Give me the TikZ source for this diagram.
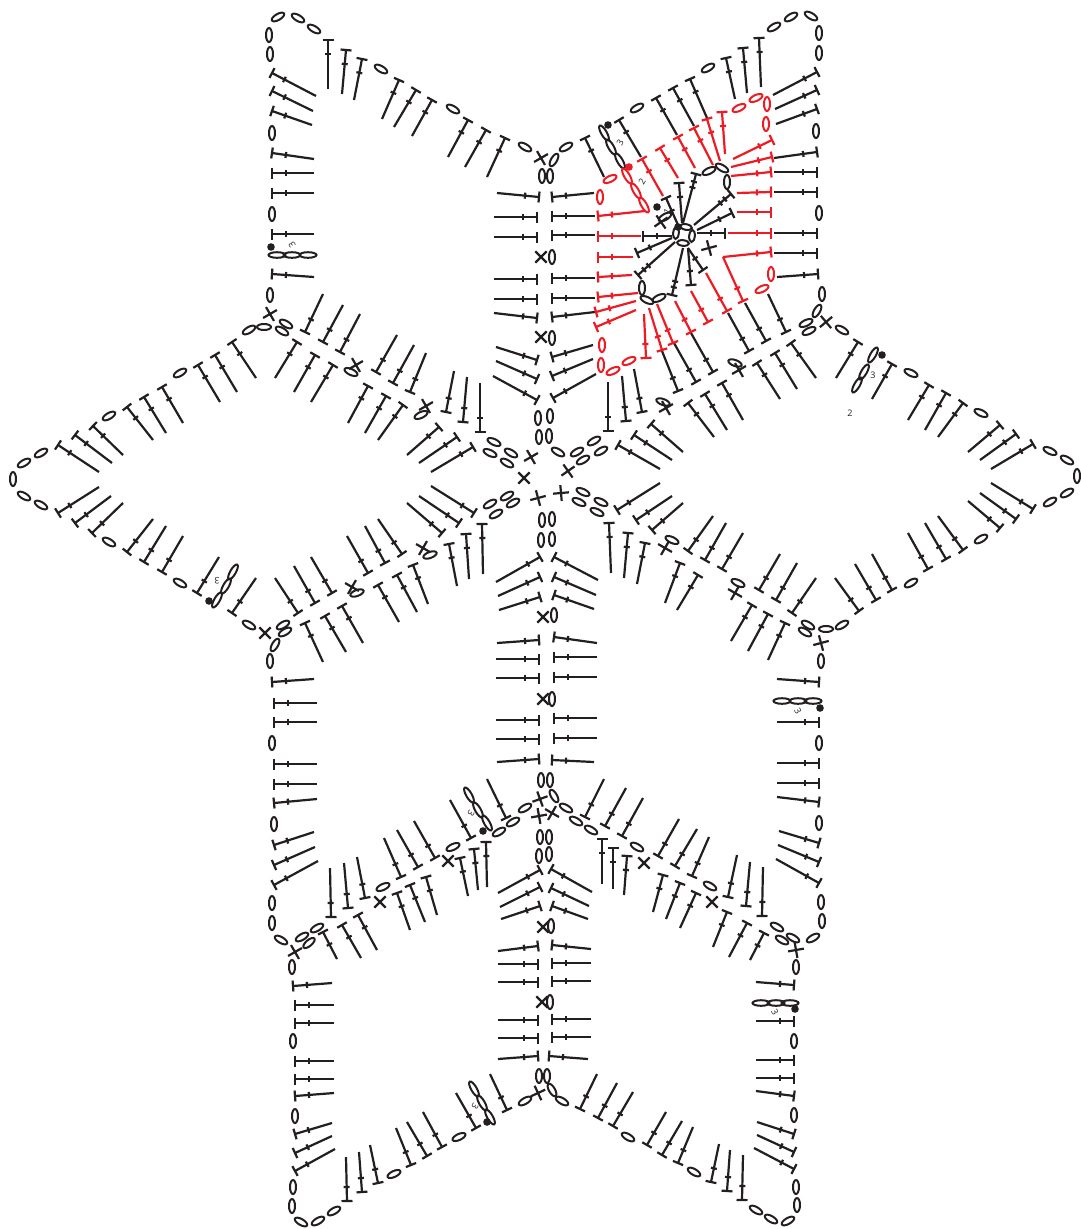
\documentclass[tikz,border=0pt]{standalone}
\usepackage{fontspec}
\setmainfont{Open Sans}
\usetikzlibrary{calc}
\definecolor{ink}{RGB}{35,31,32}
\definecolor{yarnred}{RGB}{237,28,36}
\tikzset{stitch/.style={line width=2.2pt}, loopst/.style={line width=2pt}, numlabel/.style={font=\fontsize{9}{9}\selectfont, inner sep=0pt}}
\newcommand{\dcst}[4]{%
  \coordinate (t) at (#1,#2); \coordinate (e) at (#3,#4); \coordinate (m) at ($(t)!14pt!(e)$);
  \draw[stitch] (t) -- (e);
  \draw[stitch] ($(t)!5.5pt!90:(e)$) -- ($(t)!5.5pt!-90:(e)$);
  \draw[stitch] ($(m)!3pt!90:(e)$) -- ($(m)!3pt!-90:(e)$);}
\newcommand{\chst}[3]{\draw[loopst] (#1,#2) ellipse [x radius=7pt, y radius=3pt, rotate=#3];}
\newcommand{\chlong}[3]{\draw[loopst] (#1,#2) ellipse [x radius=8.5pt, y radius=2.8pt, rotate=#3];}
\newcommand{\scst}[3]{\draw[stitch, rotate around={#3:(#1,#2)}] (#1-8,#2) -- (#1+8,#2) (#1,#2-8) -- (#1,#2+8);}
\begin{document}
\begin{tikzpicture}[x=1pt, y=-1pt, color=ink]
  \useasboundingbox (0,0) rectangle (1080,1229);
  % top right arm, outer row
  \foreach \xa/\ya/\xb/\yb in {585/138/604/177, 619/120/641/157, 656/98/677/135, 673/88/694/126, 690/79/707/118, 726/58/735/99, 743/48/747/93, 759/38/761/87,
    817/72/773/95, 817/90/775/109, 817/109/776/124, 817/152/774/158, 817/172/774/172, 817/192/774/192, 817/233/774/233, 817/253/774/253, 818/274/777/277,
    552/197/594/193, 552/216/595/216, 552/235/595/235, 552/278/595/278, 552/298/595/298, 552/317/595/312, 552/357/593/345, 552/376/593/359, 553/398/596/374,
    786/332/768/294, 766/341/745/303, 749/351/728/313, 713/372/691/333, 696/382/674/343, 678/391/662/351, 642/412/634/369, 626/421/622/376, 608/431/608/382}
    {\dcst{\xa}{\ya}{\xb}{\yb}}
  % top left arm
  \foreach \xa/\ya/\xb/\yb in {539/197/497/193, 537/217/494/217, 537/237/494/237, 537/279/494/279, 537/299/494/299, 537/318/494/313, 537/360/496/347, 537/379/496/361, 537/400/493/376,
    505/138/487/177, 486/130/465/167, 468/120/448/157, 432/100/412/136, 416/90/394/127, 399/80/382/119, 362/59/354/100, 346/50/342/94, 328/40/328/89,
    272/73/316/96, 272/91/313/111, 272/111/312/125, 272/153/314/159, 272/173/314/173, 272/193/314/193, 272/234/314/234, 272/274/314/277}
    {\dcst{\xa}{\ya}{\xb}{\yb}}
  % right arm
  \foreach \xa/\ya/\xb/\yb in {858/342/836/378, 892/364/872/399, 929/385/908/420, 946/393/925/430, 963/403/938/437, 1000/425/968/452, 1016/434/980/460, 1033/444/991/469,
    1033/509/991/483, 1016/519/980/493, 1000/528/968/501, 963/550/938/516, 946/559/925/523, 928/569/908/533, 892/590/872/554, 876/600/855/564, 859/611/835/578,
    791/343/816/378, 775/353/797/389, 757/363/780/399, 722/383/743/420, 705/394/727/430, 688/403/714/437,
    618/445/660/469, 634/435/672/460, 651/424/683/452, 617/510/660/483, 636/520/672/496, 652/530/683/503,
    609/523/611/573, 628/533/624/578, 645/543/637/584, 680/563/665/603, 698/575/677/610, 688/551/713/516, 705/560/726/523, 722/569/743/533,
    759/590/780/554, 776/600/797/563, 792/613/816/578, 752/605/731/641, 768/614/748/651, 785/623/768/660}
    {\dcst{\xa}{\ya}{\xb}{\yb}}
  % left arm
  \foreach \xa/\ya/\xb/\yb in {232/342/256/378, 215/355/237/392, 198/365/220/402, 162/387/183/423, 144/397/166/433, 127/407/153/440, 93/426/123/455, 75/435/112/463, 58/445/99/472,
    58/513/99/487, 75/523/111/496, 92/533/123/503, 127/552/153/519, 144/562/166/526, 162/572/183/536, 197/593/219/557, 232/613/256/578,
    297/342/275/378, 315/355/294/392, 333/365/311/402, 305/332/323/294, 323/342/343/305, 340/352/360/314, 376/372/397/335, 393/383/414/345, 410/392/426/353,
    368/386/348/423, 386/396/365/433, 403/405/378/440, 446/412/454/371, 463/422/467/377, 480/432/480/383, 439/427/407/455, 457/437/419/463, 473/447/431/472,
    474/513/431/486, 459/523/419/496, 442/533/407/503, 482/524/483/574, 466/534/469/579, 449/544/457/586, 413/565/428/604, 397/575/417/612, 378/585/399/622,
    368/573/347/536, 385/563/365/526, 402/554/378/519, 332/593/311/557, 315/603/294/566, 298/613/275/578, 342/606/363/643, 325/616/346/652, 305/623/323/662}
    {\dcst{\xa}{\ya}{\xb}{\yb}}
  % middle column and sides
  \foreach \xa/\ya/\xb/\yb in {554/557/598/580, 554/577/596/595, 554/595/594/609, 540/557/496/582, 540/577/498/596, 540/597/499/610,
    554/637/597/643, 554/657/597/657, 554/677/597/677, 554/718/597/718, 554/738/597/738, 552/760/594/762,
    539/640/497/643, 539/659/496/659, 539/678/496/678, 539/720/496/720, 539/739/496/739, 539/759/497/762,
    819/682/777/679, 819/722/777/722, 819/763/777/763, 819/783/777/783, 819/802/777/797, 819/843/779/831, 819/862/778/845, 819/883/776/859,
    272/682/314/679, 274/703/317/703, 274/722/317/722, 274/764/317/764, 274/784/317/784, 274/803/317/799, 274/845/314/832, 274/865/315/847, 274/885/318/861}
    {\dcst{\xa}{\ya}{\xb}{\yb}}
  % chevrons of the lower part
  \foreach \xa/\ya/\xb/\yb in {585/817/604/779, 605/826/626/788, 622/836/643/798, 658/856/679/819, 675/866/697/829, 692/876/709/837, 728/897/737/855, 746/906/750/862, 762/916/763/867,
    602/839/602/884, 613/848/613/889, 627/856/624/895, 663/875/653/912, 680/883/666/919, 696/893/680/928, 727/912/713/947, 747/923/729/957, 764/933/750/960,
    331/917/330/868, 348/908/344/863, 365/898/357/857, 401/877/384/838, 418/867/397/830, 435/858/414/821, 471/838/450/800, 506/818/487/779,
    486/842/487/887, 474/849/478/890, 460/858/468/896, 426/877/437/915, 410/885/425/922, 397/893/410/930, 358/915/377/950, 342/925/361/958, 323/932/337/959}
    {\dcst{\xa}{\ya}{\xb}{\yb}}
  % bottom
  \foreach \xa/\ya/\xb/\yb in {551/869/592/892, 551/888/589/906, 552/906/588/919, 540/870/498/893, 540/887/500/907, 540/906/501/919,
    552/945/591/949, 552/963/591/963, 552/981/591/981, 552/1019/591/1019, 552/1037/591/1037, 549/1056/588/1059,
    538/946/498/951, 538/964/498/964, 538/982/498/982, 538/1020/498/1020, 538/1038/498/1038, 538/1056/498/1059,
    580/1109/597/1074, 598/1118/617/1083, 613/1126/633/1092, 647/1145/666/1112, 662/1155/682/1121, 678/1163/693/1127, 711/1182/719/1144, 727/1191/730/1150, 742/1200/743/1155,
    794/1169/754/1148, 794/1152/757/1135, 794/1134/757/1122, 794/1096/756/1091, 794/1078/756/1078, 794/1060/756/1060, 794/1021/756/1021, 794/985/756/982,
    293/986/332/983, 295/1005/334/1005, 295/1023/334/1023, 295/1061/334/1061, 295/1079/334/1079, 295/1096/334/1093, 295/1134/332/1123, 295/1153/332/1136, 295/1171/335/1149,
    347/1201/346/1157, 362/1192/359/1152, 378/1183/370/1145, 411/1165/396/1128, 427/1156/407/1122, 442/1147/423/1112, 476/1128/456/1093, 507/1110/490/1074}
    {\dcst{\xa}{\ya}{\xb}{\yb}}
  % centre spokes
  \foreach \xa/\ya/\xb/\yb in {666/198/678/225, 679/183/682/223, 696/174/683/223, 731/194/694/225, 732/213/697/230, 725/233/697/233, 703/270/688/248, 691/285/688/248, 672/295/683/248, 638/275/675/242, 637/253/672/238, 643/236/672/236}
    {\dcst{\xa}{\ya}{\xb}{\yb}}
  \foreach \xa/\ya/\xb/\yb in {696/174/683/223, 731/194/694/225, 672/295/683/248, 638/275/675/242}
    {\coordinate (t) at (\xa,\ya); \coordinate (e) at (\xb,\yb); \coordinate (m) at ($(t)!8pt!(e)$);
     \draw[stitch] ($(m)!3pt!90:(e)$) -- ($(m)!3pt!-90:(e)$);}
  % chains
  \foreach \x/\y/\a in {566/147/30, 554/160/60, 637/108/30, 708/68/30, 774/27/30, 791/17/30, 811/16/-30, 819/33/90, 819/53/90, 816/131/90, 819/213/90, 822/294/90, 817/311/60, 806/323/25, 809/331/25,
    842/330/-30, 911/373/-25, 981/413/-25, 1050/451/-25, 1067/460/-30, 1077/476/90, 1067/493/30, 1050/502/30, 981/539/30, 911/583/30, 842/625/30, 826/629/0, 808/625/-30, 805/632/-30, 821/661/90,
    552/257/90, 552/338/90, 550/176/90, 542/176/90, 525/147/-30, 453/109/-30, 381/69/-30, 314/29/-30, 298/18/-30, 278/17/30, 269/35/90, 270/54/90, 272/133/90, 272/214/90, 270/295/90,
    286/324/-30, 282/331/-30, 264/327/0, 249/330/30, 180/373/30, 109/416/30, 41/453/30, 24/463/30, 13/479/90, 24/496/-30, 41/505/-30, 109/542/-30, 180/583/-30, 249/625/-30, 283/625/30, 285/632/30, 275/645/60, 270/661/90,
    538/418/90, 550/416/90, 539/437/90, 549/436/90, 494/442/-25, 490/453/-25, 511/453/-30, 507/463/-30, 490/504/30, 507/496/30, 496/514/30, 513/503/30,
    542/520/90, 552/519/90, 541/540/90, 552/539/90, 583/492/-25, 601/502/-25, 579/502/-25, 597/512/-25, 558/452/-30, 577/452/30, 594/441/30, 583/460/30, 601/451/30,
    554/615/90, 552/699/90, 541/780/90, 550/780/90, 554/796/-60, 566/808/-30, 576/821/-30, 591/830/-30, 637/847/-30, 710/886/-30, 777/927/-30, 793/938/-30, 782/940/-30, 813/938/30,
    796/967/90, 794/1041/90, 794/1115/90, 797/1205/90, 796/1187/90, 756/1210/-30, 771/1219/-30, 788/1221/30, 819/743/90, 819/823/90, 821/902/90, 822/921/90,
    272/743/90, 274/824/90, 272/903/90, 272/923/90, 281/940/-30, 302/937/30, 317/928/30, 309/943/40, 292/967/90, 293/1041/90, 295/1116/90, 293/1187/90, 292/1206/90, 301/1222/-30, 318/1221/30, 334/1211/30,
    394/1174/25, 459/1137/25, 525/1101/30, 383/887/25, 453/847/25, 499/832/30, 513/822/30, 525/808/30, 540/837/90, 549/837/90, 539/856/90, 549/854/90, 551/926/90, 550/1002/90,
    539/1076/90, 547/1076/90, 552/1090/-60, 562/1101/-30, 628/1137/-30, 694/1172/-30,
    351/372/-25, 421/415/25, 430/555/20, 357/593/20, 663/402/-20, 735/363/-20, 672/540/-25, 738/583/-25,
    665/217/30, 727/182/90, 709/171/25, 722/168/-30, 642/288/90, 647/300/-25, 659/298/25}
    {\chst{\x}{\y}{\a}}
  % ring in the centre
  \foreach \x/\y/\a in {676/233/85, 686/227/-10, 692/236/85, 683/243/-5}
    {\draw[loopst] (\x,\y) ellipse [x radius=6pt, y radius=2.8pt, rotate=\a];}
  % three loop chains with their dots
  \foreach \x/\y/\a in {604/133/-60, 611/147/-60, 620/161/-60, 873/355/60, 864/372/60, 857/385/60, 277/255/0, 292/255/0, 308/255/0, 217/600/60, 226/586/60, 233/572/60,
    813/701/0, 798/701/0, 782/701/0, 469/795/-60, 478/810/-60, 487/823/-60, 790/1003/0, 776/1003/0, 761/1003/0, 474/1089/-60, 482/1103/-60, 490/1117/-60}
    {\chlong{\x}{\y}{\a}}
  \foreach \x/\y in {608/125, 882/355, 271/247, 209/601, 820/708, 483/831, 795/1009, 487/1122, 657/207, 678/227}
    {\fill (\x,\y) circle (3.8pt);}
  % single crochet crosses
  \foreach \x/\y/\a in {541/158/30, 541/257/45, 541/337/45, 543/617/45, 543/699/45, 543/927/45, 542/1002/45, 538/1093/25, 661/222/35, 709/248/15, 826/322/40, 270/314/30, 265/633/45, 821/643/15,
    356/365/30, 426/406/30, 666/408/30, 739/370/30, 423/548/60, 352/587/60, 665/548/60, 735/593/60, 531/457/30, 524/478/45, 538/498/15, 561/493/5, 568/471/35,
    540/799/20, 539/816/10, 552/813/60, 644/863/45, 712/902/45, 796/950/10, 380/902/45, 448/861/45, 295/952/30}
    {\scst{\x}{\y}{\a}}
  % numbers
  \node[numlabel, rotate=60] (num1) at (620,143) {3};
  \node[numlabel, rotate=60] (num2) at (642,182) {2};
  \node[numlabel, rotate=60] (num3) at (667,212) {1};
  \node[numlabel] (num4) at (873,375) {3};
  \node[numlabel] (num5) at (850,413) {2};
  \node[numlabel, rotate=120] (num6) at (292,245) {3};
  \node[numlabel, rotate=180] (num7) at (217,581) {3};
  \node[numlabel, rotate=-60] (num8) at (798,711) {3};
  \node[numlabel, rotate=-120] (num9) at (471,813) {3};
  \node[numlabel, rotate=-60] (num10) at (775,1012) {3};
  \node[numlabel, rotate=-120] (num11) at (475,1106) {3};
  % the red round
  \begin{scope}[color=yarnred]
    \foreach \xa/\ya/\xb/\yb in {598/216/645/211, 598/236/641/236, 598/257/633/257, 598/277/632/275, 598/297/638/293, 596/312/636/301, 596/327/636/310,
      646/358/644/314, 662/350/649/308, 673/343/657/304, 691/332/675/301, 708/322/691/291, 727/311/706/273, 743/301/723/257, 771/252/723/257,
      771/233/728/233, 771/212/737/212, 771/192/737/193, 771/172/731/176, 772/157/731/167, 772/140/733/159,
      722/112/725/154, 707/119/720/161, 694/128/713/165, 678/137/695/168, 660/148/678/178, 642/159/663/196}
      {\dcst{\xa}{\ya}{\xb}{\yb}}
    \foreach \x/\y/\a in {600/197/90, 610/179/25, 602/345/90, 601/365/90, 613/371/25, 629/361/25, 762/289/25, 771/274/90, 766/124/90, 767/104/90, 756/98/25, 739/108/25}
      {\chst{\x}{\y}{\a}}
    \foreach \x/\y/\a in {627/176/-60, 636/191/-60, 644/205/-60}
      {\chlong{\x}{\y}{\a}}
    \fill (629,167) circle (3.8pt);
  \end{scope}
\end{tikzpicture}
\end{document}
